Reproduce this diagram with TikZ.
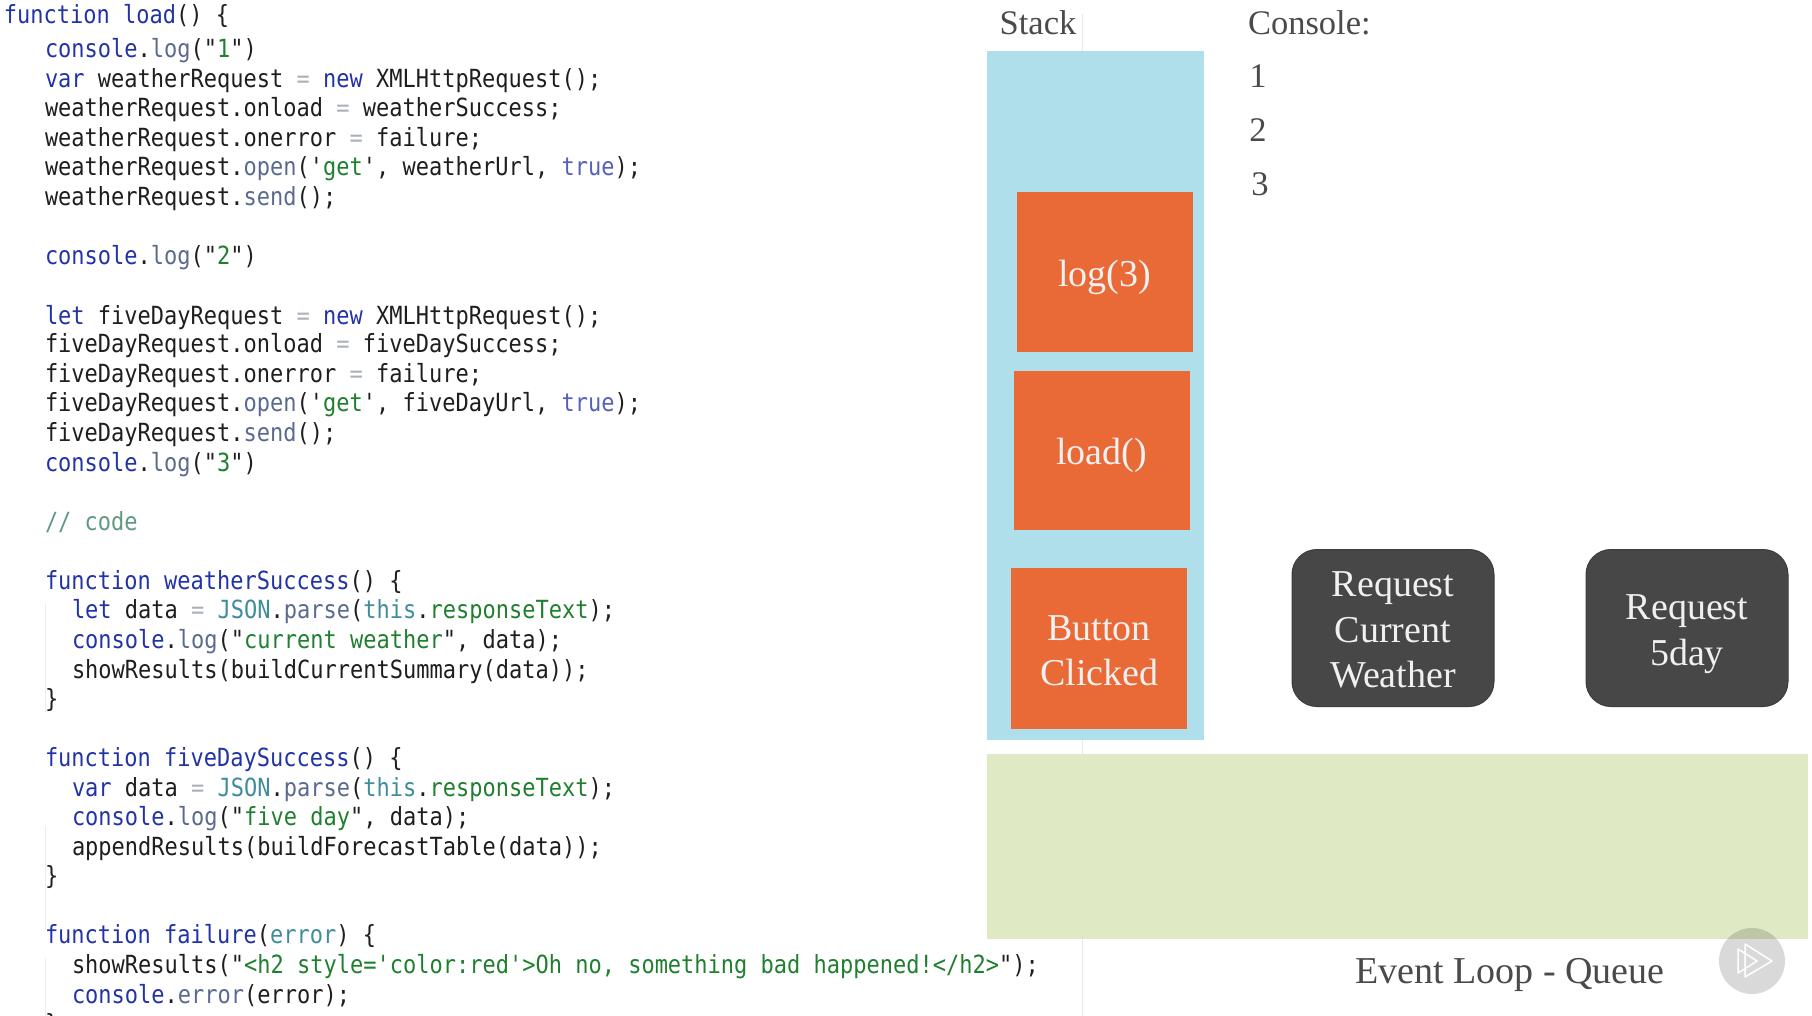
\documentclass[tikz,border=0pt]{standalone}
\usepackage{fontspec}
\setmainfont{Liberation Serif}
\setmonofont[FakeStretch=0.88]{DejaVu Sans Mono}
\definecolor{stackblue}{HTML}{B0DFEC}
\definecolor{frameorange}{HTML}{E96A36}
\definecolor{webdark}{HTML}{474747}
\definecolor{queuegreen}{HTML}{DFE9C4}
\definecolor{labelgrey}{HTML}{4A4A4A}
\definecolor{codeblack}{HTML}{1E1E1E}
\definecolor{kwblue}{HTML}{2233A6}
\definecolor{methgrey}{HTML}{5A6A8E}
\definecolor{strgreen}{HTML}{1F7F2F}
\definecolor{objteal}{HTML}{3F8C9C}
\definecolor{boolblue}{HTML}{5560B8}
\definecolor{eqgrey}{HTML}{A8B0B8}
\definecolor{commentgreen}{HTML}{5F9A80}
\newcommand{\kw}[1]{\textcolor{kwblue}{#1}}
\newcommand{\meth}[1]{\textcolor{methgrey}{#1}}
\newcommand{\strg}[1]{\textcolor{strgreen}{#1}}
\newcommand{\obj}[1]{\textcolor{objteal}{#1}}
\newcommand{\bool}[1]{\textcolor{boolblue}{#1}}
\newcommand{\eqs}{\textcolor{eqgrey}{=}}
\tikzset{
  codeline/.style={anchor=base west,inner sep=0pt,outer sep=0pt,text=codeblack,font=\fontsize{25}{29}\ttfamily},
  seriflabel/.style={inner sep=0pt,outer sep=0pt,anchor=base,text=labelgrey,font=\fontsize{34.5}{40}\selectfont},
  framebox/.style={fill=frameorange,draw=none,inner sep=0pt,minimum width=176pt},
  requestbox/.style={fill=webdark,draw=webdark!85!black,line width=1pt,rounded corners=25pt,inner sep=0pt,minimum width=202pt,minimum height=157pt},
  boxtext/.style={inner sep=0pt,text=white!94!black,align=center,font=\fontsize{38}{45.7}\selectfont}
}
\begin{document}
\begin{tikzpicture}[x=1pt,y=-1pt]
\useasboundingbox (0,0) rectangle (1812,1016);
% guide lines
\draw[black!9,line width=1pt] (1082,14) -- (1082,1016);
\draw[black!7,line width=1pt] (45,603) -- (45,712);
\draw[black!7,line width=1pt] (45,826) -- (45,930);
\draw[black!7,line width=1pt] (45,958) -- (45,1016);
% code
\node[codeline] (l1) at (4,24) {\kw{function load}() \{};
\node[codeline] (l2) at (45,58) {\kw{console}.\meth{log}("\strg{1}")};
\node[codeline] (l3) at (45,88) {\kw{var} weatherRequest \eqs{} \kw{new} XMLHttpRequest();};
\node[codeline] (l4) at (45,117) {weatherRequest.onload \eqs{} weatherSuccess;};
\node[codeline] (l5) at (45,147) {weatherRequest.onerror \eqs{} failure;};
\node[codeline] (l6) at (45,176) {weatherRequest.\meth{open}('\strg{get}', weatherUrl, \bool{true});};
\node[codeline] (l7) at (45,206) {weatherRequest.\meth{send}();};
\node[codeline] (l9) at (45,265) {\kw{console}.\meth{log}("\strg{2}")};
\node[codeline] (l11) at (45,324) {\kw{let} fiveDayRequest \eqs{} \kw{new} XMLHttpRequest();};
\node[codeline] (l12) at (45,352) {fiveDayRequest.onload \eqs{} fiveDaySuccess;};
\node[codeline] (l13) at (45,382) {fiveDayRequest.onerror \eqs{} failure;};
\node[codeline] (l14) at (45,411) {fiveDayRequest.\meth{open}('\strg{get}', fiveDayUrl, \bool{true});};
\node[codeline] (l15) at (45,441) {fiveDayRequest.\meth{send}();};
\node[codeline] (l16) at (45,471) {\kw{console}.\meth{log}("\strg{3}")};
\node[codeline,text=commentgreen] (l18) at (45,530) {// code};
\node[codeline] (l20) at (45,589) {\kw{function weatherSuccess}() \{};
\node[codeline] (l21) at (72,618) {\kw{let} data \eqs{} \obj{JSON}.\meth{parse}(\obj{this}.\strg{responseText});};
\node[codeline] (l22) at (72,648) {\kw{console}.\meth{log}("\strg{current weather}", data);};
\node[codeline] (l23) at (72,678) {showResults(buildCurrentSummary(data));};
\node[codeline] (l24) at (45,707) {\}};
\node[codeline] (l26) at (45,766) {\kw{function fiveDaySuccess}() \{};
\node[codeline] (l27) at (72,796) {\kw{var} data \eqs{} \obj{JSON}.\meth{parse}(\obj{this}.\strg{responseText});};
\node[codeline] (l28) at (72,825) {\kw{console}.\meth{log}("\strg{five day}", data);};
\node[codeline] (l29) at (72,855) {appendResults(buildForecastTable(data));};
\node[codeline] (l30) at (45,884) {\}};
\node[codeline] (l32) at (45,943) {\kw{function failure}(\obj{error}) \{};
\node[codeline] (l33) at (72,973) {showResults("\strg{<h2 style='color:red'>Oh no, something bad happened!</h2>}");};
\node[codeline] (l34) at (72,1003) {\kw{console}.\meth{error}(error);};
\node[codeline] (l35) at (45,1032) {\}};
% stack
\node[seriflabel] (stacklabel) at (1038,35) {Stack};
\node[fill=stackblue,inner sep=0pt,minimum width=217pt,minimum height=689pt] (stack) at (1095.2,395.5) {};
\node[framebox,minimum height=160pt] (log3) at (1104.7,272) {};
\node[boxtext] at ([yshift=-5pt]log3.center) (log3text) {log(3)};
\node[framebox,minimum height=159pt] (load) at (1101.7,450.5) {};
\node[boxtext] at ([yshift=-4.6pt]load.center) (loadtext) {load()};
\node[framebox,minimum height=161pt] (button) at (1099.2,648.5) {};
\node[boxtext] at ([yshift=-2.3pt]button.center) (buttontext) {Button\\Clicked};
% console
\node[seriflabel,anchor=base west] (console) at (1248,35) {Console:};
\node[seriflabel] (out1) at (1258,88) {1};
\node[seriflabel] (out2) at (1258,142) {2};
\node[seriflabel] (out3) at (1260,196) {3};
% web api
\node[requestbox] (current) at (1393,628) {};
\node[boxtext] at ([yshift=-2pt]current.center) (currenttext) {Request\\Current\\Weather};
\node[requestbox] (fiveday) at (1687,628) {};
\node[boxtext] at ([yshift=-6pt]fiveday.center) (fivedaytext) {Request\\5day};
% queue
\node[fill=queuegreen,inner sep=0pt,minimum width=821pt,minimum height=185pt] (queue) at (1397.2,846) {};
\node[seriflabel,font=\fontsize{38}{44}\selectfont] (queuelabel) at (1510,983) {Event Loop - Queue};
% player badge
\node[circle,fill=black,opacity=0.15,inner sep=0pt,minimum size=66pt] (badge) at (1752,961) {};
\draw[white,line width=1.5pt,line join=round] (1738,949) -- (1757,961) -- (1738,973) -- cycle;
\draw[white,line width=1.5pt,line join=round] (1745,944) -- (1772,961) -- (1745,977) -- cycle;
\end{tikzpicture}
\end{document}
